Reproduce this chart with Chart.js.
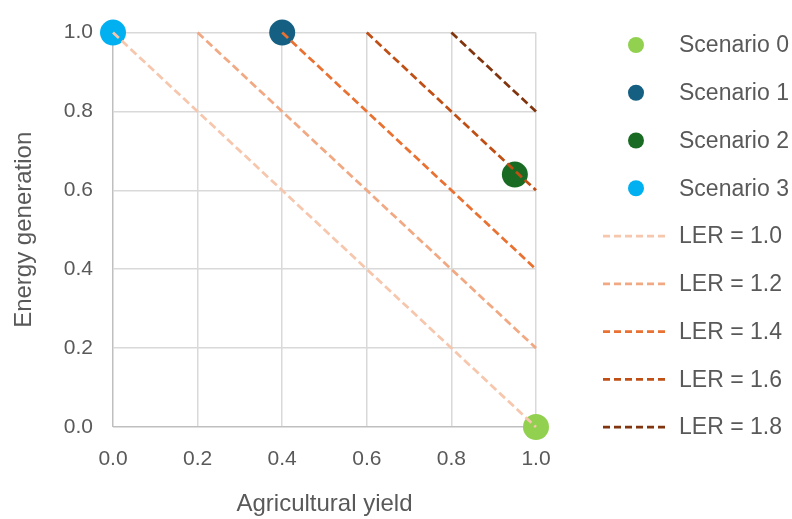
<!DOCTYPE html>
<html>
<head>
<meta charset="utf-8">
<script src="https://cdn.jsdelivr.net/npm/chart.js@4.4.1/dist/chart.umd.min.js"></script>
<style>
  html, body { margin: 0; padding: 0; background: #fff; }
  #wrap { width: 792px; height: 519px; }
</style>
</head>
<body>
<div id="wrap"><canvas id="chart"></canvas></div>
<script>
// scenarios (agricultural yield, energy generation)
const scenarioNames = ['Scenario 0', 'Scenario 1', 'Scenario 2', 'Scenario 3'];
const scenarioX = [1.0, 0.4, 0.95, 0.0];
const scenarioY = [0.0, 1.0, 0.64, 1.0];
const scenarioColors = ['#92D050', '#156082', '#196B24', '#00B0F0'];

// LER iso-lines: from (startX, 1.0) to (1.0, endY)
const lerNames = ['LER = 1.0', 'LER = 1.2', 'LER = 1.4', 'LER = 1.6', 'LER = 1.8'];
const lerStartX = [0.0, 0.2, 0.4, 0.6, 0.8];
const lerEndY = [0.0, 0.2, 0.4, 0.6, 0.8];
const lerColors = ['#F6C6AD', '#F1A983', '#E97132', '#C04F15', '#80350E'];

const tickValues = [0, 0.2, 0.4, 0.6, 0.8, 1.0];

const FONT = '"Liberation Sans", Arial, sans-serif';
const DASH = [8, 4];

const datasets = [];
scenarioNames.forEach((name, i) => {
  datasets.push({
    type: 'scatter',
    label: name,
    data: [{ x: scenarioX[i], y: scenarioY[i] }],
    backgroundColor: scenarioColors[i],
    borderColor: scenarioColors[i],
    borderWidth: 0,
    pointRadius: 13,
    pointHoverRadius: 13,
    clip: false,
    order: 1
  });
});
lerNames.forEach((name, i) => {
  datasets.push({
    type: 'line',
    label: name,
    data: [{ x: lerStartX[i], y: 1.0 }, { x: 1.0, y: lerEndY[i] }],
    borderColor: lerColors[i],
    borderWidth: 2.75,
    borderDash: DASH,
    pointRadius: 0,
    fill: false,
    clip: false,
    order: 0
  });
});

// legend drawn on the right side, one row per dataset
const sideLegend = {
  id: 'sideLegend',
  afterDraw(chart) {
    const ctx = chart.ctx;
    ctx.save();
    ctx.font = '23px ' + FONT;
    ctx.textBaseline = 'middle';
    ctx.textAlign = 'left';
    let y = 45;
    chart.data.datasets.forEach(ds => {
      if (ds.type === 'scatter') {
        ctx.beginPath();
        ctx.fillStyle = ds.backgroundColor;
        ctx.arc(636, y, 8, 0, Math.PI * 2);
        ctx.fill();
      } else {
        ctx.beginPath();
        ctx.strokeStyle = ds.borderColor;
        ctx.lineWidth = 2.75;
        ctx.setLineDash([7, 4]);
        ctx.moveTo(603, y);
        ctx.lineTo(669, y);
        ctx.stroke();
        ctx.setLineDash([]);
      }
      ctx.fillStyle = '#595959';
      ctx.fillText(ds.label, 679, y + 1);
      y += 47.75;
    });
    ctx.restore();
  }
};

const axisCommon = {
  type: 'linear',
  min: 0,
  max: 1,
  afterBuildTicks: scale => { scale.ticks = tickValues.map(v => ({ value: v })); },
  grid: {
    color: ctx => ctx.tick && ctx.tick.value === 0 ? '#BFBFBF' : '#D9D9D9',
    lineWidth: 1.5,
    drawTicks: false
  },
  border: { display: false },
  ticks: {
    color: '#595959',
    font: { family: FONT, size: 21 },
    callback: v => Number(v).toFixed(1)
  }
};

new Chart(document.getElementById('chart'), {
  data: { datasets },
  options: {
    responsive: true,
    maintainAspectRatio: false,
    animation: false,
    layout: { padding: { left: 0, top: 22, right: 256, bottom: 0 } },
    plugins: {
      legend: { display: false },
      tooltip: { enabled: false }
    },
    scales: {
      x: {
        ...axisCommon,
        position: 'bottom',
        afterFit: s => { s.height = 92; },
        ticks: { ...axisCommon.ticks, padding: 20, maxRotation: 0 },
        title: {
          display: true,
          text: 'Agricultural yield',
          color: '#595959',
          font: { family: FONT, size: 24 },
          padding: { top: 0, bottom: 0 }
        }
      },
      y: {
        ...axisCommon,
        position: 'left',
        afterFit: s => { s.width = 113; },
        ticks: { ...axisCommon.ticks, padding: 20 },
        title: {
          display: true,
          text: 'Energy generation',
          color: '#595959',
          font: { family: FONT, size: 24 },
          padding: { top: 10, bottom: 0 }
        }
      }
    }
  },
  plugins: [sideLegend]
});
</script>
</body>
</html>
